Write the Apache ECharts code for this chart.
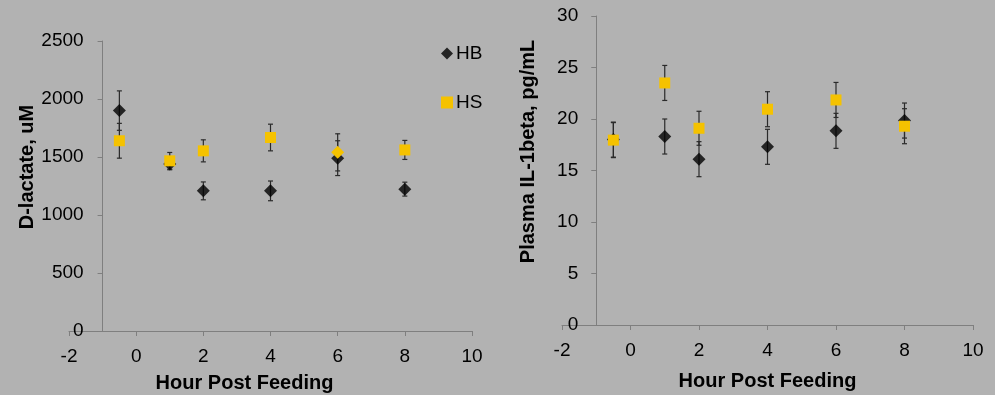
<!DOCTYPE html>
<html>
<head>
<meta charset="utf-8">
<script src="https://cdn.jsdelivr.net/npm/echarts@6/dist/echarts.min.js"></script>
<style>
html,body{margin:0;padding:0;background:#b2b2b2;}
#c{width:995px;height:395px;}
</style>
</head>
<body>
<div id="c"></div>
<script>
// ---- data ----
const hours = [-0.5, 1, 2, 4, 6, 8];
const xTicks = [-2, 0, 2, 4, 6, 8, 10];
const dLactateHB = [1900, 1440, 1208, 1208, 1490, 1223];
const dLactateHBErr = [170, 50, 77, 85, 150, 60];
const dLactateHS = [1640, 1467, 1553, 1668, 1540, 1561];
const dLactateHSErr = [150, 72, 95, 115, 160, 82];
const il1HB = [18.0, 18.3, 16.1, 17.3, 18.85, 19.85];
const il1HBErr = [1.7, 1.7, 1.7, 1.7, 1.7, 1.7];
const il1HS = [17.95, 23.5, 19.1, 20.95, 21.85, 19.3];
const il1HSErr = [1.7, 1.7, 1.65, 1.7, 1.7, 1.7];
const seriesNames = ['HB', 'HS'];

const FONT = '"Liberation Sans", Arial, sans-serif';
const YELLOW = '#f5c200';
const AXIS = '#7f7f7f';

const chart = echarts.init(document.getElementById('c'), null, {renderer: 'canvas'});

const grids = [
  {left: 69, right: 523, top: 41, bottom: 64, containLabel: false, outerBoundsMode: 'none'},
  {left: 562, right: 22, top: 16, bottom: 70, containLabel: false, outerBoundsMode: 'none'}
];
function gridWidth(g) { return 995 - g.left - g.right; }

function pts(xs, ys) { return xs.map((x, i) => [x, ys[i]]); }
function errs(xs, ys, es) { return xs.map((x, i) => [x, ys[i] - es[i], ys[i] + es[i]]); }

function errRender(params, api) {
  const x = api.value(0), lo = api.value(1), hi = api.value(2);
  const a = api.coord([x, hi]), b = api.coord([x, lo]);
  const w = 2.5;
  const st = {stroke: '#2a2a2a', lineWidth: 1.2};
  return {
    type: 'group',
    children: [
      {type: 'line', shape: {x1: a[0], y1: a[1], x2: b[0], y2: b[1]}, style: st},
      {type: 'line', shape: {x1: a[0] - w, y1: a[1], x2: a[0] + w, y2: a[1]}, style: st},
      {type: 'line', shape: {x1: b[0] - w, y1: b[1], x2: b[0] + w, y2: b[1]}, style: st}
    ]
  };
}

function xAxisCfg(gi, nameGap, pad) {
  return {
    type: 'value', gridIndex: gi, min: -2, max: 10, interval: 2,
    splitLine: {show: false},
    axisLine: {onZero: false, lineStyle: {color: AXIS, width: 1}},
    axisTick: {show: true, length: 5, lineStyle: {color: AXIS}},
    axisLabel: {color: '#000', fontFamily: FONT, fontSize: 19, margin: 16, formatter: v => String(v)},
    name: 'Hour Post Feeding', nameLocation: 'middle', nameGap: nameGap,
    nameTextStyle: {color: '#000', fontFamily: FONT, fontSize: 20, fontWeight: 'bold', padding: pad}
  };
}
function yAxisCfg(gi, max, interval, name, nameGap, margin) {
  return {
    type: 'value', gridIndex: gi, min: 0, max: max, interval: interval,
    offset: -gridWidth(grids[gi]) / 12,
    splitLine: {show: false},
    axisLine: {show: true, onZero: false, lineStyle: {color: AXIS, width: 1}},
    axisTick: {show: true, length: 5, lineStyle: {color: AXIS}},
    axisLabel: {color: '#000', fontFamily: FONT, fontSize: 19, margin: margin, formatter: v => String(v)},
    name: name, nameLocation: 'middle', nameGap: nameGap,
    nameTextStyle: {color: '#000', fontFamily: FONT, fontSize: 20, fontWeight: 'bold', padding: [0, 0, 0, 38]}
  };
}

const hsSymbolsLeft = hours.map((h, i) => i === 4 ? 'diamond' : 'rect');

chart.setOption({
  backgroundColor: '#b2b2b2',
  animation: false,
  grid: grids,
  legend: {
    data: seriesNames, orient: 'vertical', left: 436, top: 39, itemGap: 30,
    itemWidth: 12, itemHeight: 12,
    textStyle: {color: '#000', fontFamily: FONT, fontSize: 19, padding: [0, 0, 0, -2]}
  },
  xAxis: [xAxisCfg(0, 42, [0, 52, 0, 0]), xAxisCfg(1, 46, 0)],
  yAxis: [
    yAxisCfg(0, 2500, 500, 'D-lactate, uM', 64, 19),
    yAxisCfg(1, 30, 5, 'Plasma IL-1beta, pg/mL', 58, 18)
  ],
  series: [
    {type: 'custom', name: 'errHB1', xAxisIndex: 0, yAxisIndex: 0, renderItem: errRender,
     encode: {x: 0, y: [1, 2]}, data: errs(hours, dLactateHB, dLactateHBErr), z: 1, silent: true},
    {type: 'custom', name: 'errHS1', xAxisIndex: 0, yAxisIndex: 0, renderItem: errRender,
     encode: {x: 0, y: [1, 2]}, data: errs(hours, dLactateHS, dLactateHSErr), z: 1, silent: true},
    {type: 'custom', name: 'errHB2', xAxisIndex: 1, yAxisIndex: 1, renderItem: errRender,
     encode: {x: 0, y: [1, 2]}, data: errs(hours, il1HB, il1HBErr), z: 1, silent: true},
    {type: 'custom', name: 'errHS2', xAxisIndex: 1, yAxisIndex: 1, renderItem: errRender,
     encode: {x: 0, y: [1, 2]}, data: errs(hours, il1HS, il1HSErr), z: 1, silent: true},
    {type: 'scatter', name: 'HB', xAxisIndex: 0, yAxisIndex: 0, symbol: 'diamond', symbolSize: 13,
     itemStyle: {color: '#000'}, data: pts(hours, dLactateHB), z: 3},
    {type: 'scatter', name: 'HS', xAxisIndex: 0, yAxisIndex: 0, symbol: 'rect', symbolSize: 11,
     itemStyle: {color: YELLOW, opacity: 1},
     data: pts(hours, dLactateHS).map((p, i) => ({value: p, symbol: hsSymbolsLeft[i], symbolSize: hsSymbolsLeft[i] === 'diamond' ? 13 : 11})), z: 4},
    {type: 'scatter', name: 'HB', xAxisIndex: 1, yAxisIndex: 1, symbol: 'diamond', symbolSize: 13,
     itemStyle: {color: '#000'}, data: pts(hours, il1HB), z: 3},
    {type: 'scatter', name: 'HS', xAxisIndex: 1, yAxisIndex: 1, symbol: 'rect', symbolSize: 11,
     itemStyle: {color: YELLOW, opacity: 1}, data: pts(hours, il1HS), z: 4}
  ]
});
</script>
</body>
</html>
